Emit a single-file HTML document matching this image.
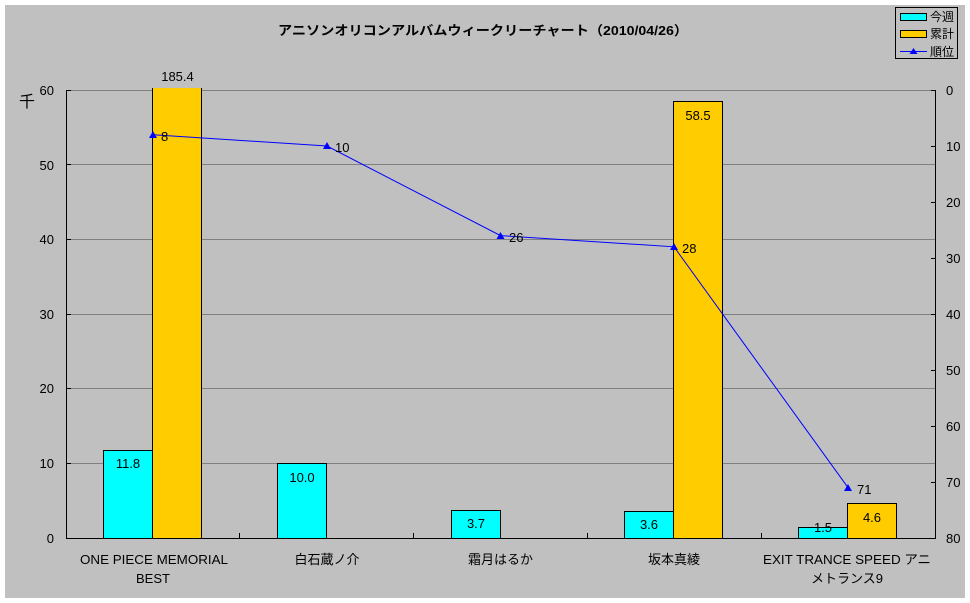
<!DOCTYPE html>
<html><head><meta charset="utf-8"><style>
html,body{margin:0;padding:0;background:#fff;}
svg{display:block;}
text{font-family:"Liberation Sans","Noto Sans CJK JP",sans-serif;fill:#000;}
</style></head><body>
<svg width="970" height="603" viewBox="0 0 970 603" xmlns="http://www.w3.org/2000/svg">
<rect x="5" y="5" width="960" height="593" fill="#c0c0c0"/>
<!-- title -->
<text x="483" y="35" font-size="13" font-weight="bold" text-anchor="middle" textLength="410" lengthAdjust="spacingAndGlyphs">アニソンオリコンアルバムウィークリーチャート（2010/04/26）</text>
<!-- gridlines -->
<g stroke="#808080" stroke-width="1" shape-rendering="crispEdges">
<line x1="66" y1="90.5" x2="935" y2="90.5"/>
<line x1="66" y1="164.5" x2="935" y2="164.5"/>
<line x1="66" y1="239.5" x2="935" y2="239.5"/>
<line x1="66" y1="314.5" x2="935" y2="314.5"/>
<line x1="66" y1="388.5" x2="935" y2="388.5"/>
<line x1="66" y1="463.5" x2="935" y2="463.5"/>
</g>
<!-- bars -->
<g stroke="#000" stroke-width="1" shape-rendering="crispEdges">
<rect x="103.5" y="450.5" width="49" height="88" fill="#00ffff"/>
<rect x="152.5" y="88" width="49" height="450.5" fill="#ffcc00" stroke="none"/>
<line x1="152.5" y1="88" x2="152.5" y2="538"/>
<line x1="201.5" y1="88" x2="201.5" y2="538"/>
<rect x="277.5" y="463.5" width="49" height="75" fill="#00ffff"/>
<rect x="451.5" y="510.5" width="49" height="28" fill="#00ffff"/>
<rect x="624.5" y="511.5" width="49" height="27" fill="#00ffff"/>
<rect x="673.5" y="101.5" width="49" height="437" fill="#ffcc00"/>
<rect x="798.5" y="527.5" width="49" height="11" fill="#00ffff"/>
<rect x="847.5" y="503.5" width="49" height="35" fill="#ffcc00"/>
</g>
<!-- axes -->
<g stroke="#000" stroke-width="1" shape-rendering="crispEdges">
<line x1="66.5" y1="90" x2="66.5" y2="539"/>
<line x1="66" y1="538.5" x2="936" y2="538.5"/>
<line x1="935.5" y1="90" x2="935.5" y2="539"/>
<line x1="66" y1="90.5" x2="71" y2="90.5"/>
<line x1="66" y1="164.5" x2="71" y2="164.5"/>
<line x1="66" y1="239.5" x2="71" y2="239.5"/>
<line x1="66" y1="314.5" x2="71" y2="314.5"/>
<line x1="66" y1="388.5" x2="71" y2="388.5"/>
<line x1="66" y1="463.5" x2="71" y2="463.5"/>
<line x1="931" y1="90.5" x2="936" y2="90.5"/>
<line x1="931" y1="146.5" x2="936" y2="146.5"/>
<line x1="931" y1="202.5" x2="936" y2="202.5"/>
<line x1="931" y1="258.5" x2="936" y2="258.5"/>
<line x1="931" y1="314.5" x2="936" y2="314.5"/>
<line x1="931" y1="370.5" x2="936" y2="370.5"/>
<line x1="931" y1="426.5" x2="936" y2="426.5"/>
<line x1="931" y1="482.5" x2="936" y2="482.5"/>
<line x1="239.5" y1="533" x2="239.5" y2="538"/>
<line x1="413.5" y1="533" x2="413.5" y2="538"/>
<line x1="587.5" y1="533" x2="587.5" y2="538"/>
<line x1="761.5" y1="533" x2="761.5" y2="538"/>
</g>
<!-- left axis labels -->
<g font-size="13" text-anchor="end">
<text x="54" y="95">60</text>
<text x="54" y="170">50</text>
<text x="54" y="244">40</text>
<text x="54" y="319">30</text>
<text x="54" y="393">20</text>
<text x="54" y="468">10</text>
<text x="54" y="543">0</text>
</g>
<text x="19" y="107" font-size="16">千</text>
<!-- right axis labels -->
<g font-size="13">
<text x="946" y="95">0</text>
<text x="946" y="151">10</text>
<text x="946" y="207">20</text>
<text x="946" y="263">30</text>
<text x="946" y="319">40</text>
<text x="946" y="375">50</text>
<text x="946" y="431">60</text>
<text x="946" y="487">70</text>
<text x="946" y="543">80</text>
</g>
<!-- bar value labels -->
<g font-size="13" text-anchor="middle">
<text x="177.5" y="81">185.4</text>
<text x="128" y="468">11.8</text>
<text x="302" y="482">10.0</text>
<text x="476" y="528">3.7</text>
<text x="649" y="529">3.6</text>
<text x="698" y="120">58.5</text>
<text x="823" y="532">1.5</text>
<text x="872" y="522">4.6</text>
</g>
<!-- line series -->
<polyline points="153,134.8 327,146 500.5,235.6 674,246.8 848,487.6" fill="none" stroke="#0000ff" stroke-width="1"/>
<g fill="#0000ff">
<polygon points="153,131 149,138 157,138"/>
<polygon points="327,142 323,149 331,149"/>
<polygon points="500.5,232 496.5,239 504.5,239"/>
<polygon points="674,243 670,250 678,250"/>
<polygon points="848,484 844,491 852,491"/>
</g>
<g font-size="13">
<text x="161" y="141">8</text>
<text x="335" y="152">10</text>
<text x="509" y="242">26</text>
<text x="682" y="253">28</text>
<text x="857" y="494">71</text>
</g>
<!-- category labels -->
<g font-size="13" text-anchor="middle">
<text x="154" y="564" textLength="148" lengthAdjust="spacingAndGlyphs">ONE PIECE MEMORIAL</text>
<text x="153" y="583">BEST</text>
<text x="327" y="564">白石蔵ノ介</text>
<text x="500.5" y="564">霜月はるか</text>
<text x="674" y="564">坂本真綾</text>
<text x="847" y="564" textLength="168" lengthAdjust="spacingAndGlyphs">EXIT TRANCE SPEED アニ</text>
<text x="847" y="583">メトランス9</text>
</g>
<!-- legend -->
<rect x="895.5" y="7.5" width="62" height="51" fill="#c0c0c0" stroke="#000" stroke-width="1" shape-rendering="crispEdges"/>
<rect x="900.5" y="13.5" width="26" height="7" fill="#00ffff" stroke="#000" stroke-width="1" shape-rendering="crispEdges"/>
<rect x="900.5" y="30.5" width="26" height="7" fill="#ffcc00" stroke="#000" stroke-width="1" shape-rendering="crispEdges"/>
<line x1="900" y1="51.5" x2="927" y2="51.5" stroke="#0000ff" stroke-width="1"/>
<polygon points="913.5,48 909.5,54 917.5,54" fill="#0000ff"/>
<g font-size="12">
<text x="930" y="21">今週</text>
<text x="930" y="38">累計</text>
<text x="930" y="56">順位</text>
</g>
</svg>
</body></html>
